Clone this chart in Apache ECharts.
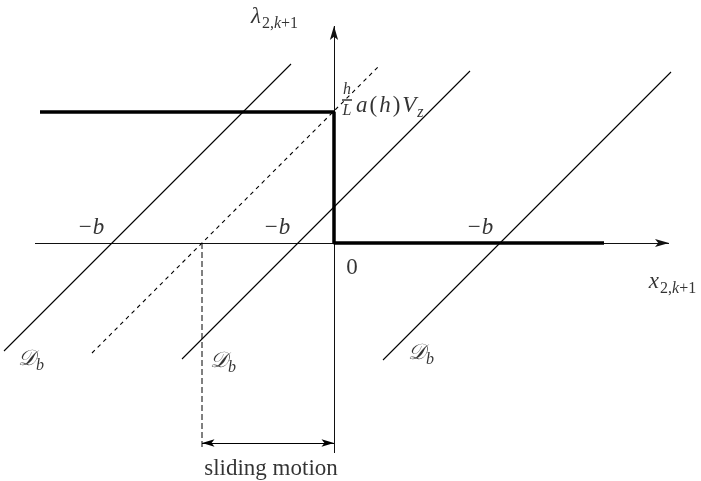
<!DOCTYPE html>
<html>
<head>
<meta charset="utf-8">
<script src="https://cdn.jsdelivr.net/npm/echarts@6/dist/echarts.min.js"></script>
<style>
  html, body { margin: 0; padding: 0; background: #fff; }
  #chart { width: 701px; height: 481px; }
</style>
</head>
<body>
<div id="chart"></div>
<script>
// Switching law (thick): upper branch at λ = (h/L)·a(h)·V_z, jump at x = 0
const stepLevel = 131;
const stepBranch = [[-294, stepLevel], [0, stepLevel], [0, 0], [270, 0]];

// D_b lines (slope 1), each one crossing the x axis at its own −b
const dbLines = [
  [[-330, -108], [-43, 179]],
  [[-152, -116], [136, 172]],
  [[49, -117], [337, 171]]
];

// Dashed D_b line passing through the corner of the switching law
const dashedLine = [[-242, -110], [45, 177]];

// Sliding-motion span: dashed drop line and the double arrow under it
const slideFoot = [[-132, 0], [-132, -207]];
const slideArrow = [[-132, -200], [0, -200]];

// Fraction bar of h/L
const fracBar = [[8, 143], [18, 143]];

// Coordinate axes (x_{2,k+1} and λ_{2,k+1}) with arrow heads
const xAxisLine = [[-299, 0], [335, 0]];
const yAxisLine = [[0, -210], [0, 217]];

// Visible window of the plane
const xRange = [-334, 367];
const yRange = [-238, 243];

// Text annotations, anchored at data coordinates
const labels = [
  { value: [-60, 226], text: '{i|λ}{sr|2,}{si|k}{sr|+1}' },
  { value: [338, -39], text: '{i|x}{sr|2,}{si|k}{sr|+1}' },
  { value: [-242, 15], text: '{r|−}{i|b}' },
  { value: [-56, 15], text: '{r|−}{i|b}' },
  { value: [147, 15], text: '{r|−}{i|b}' },
  { value: [18, -25], text: '{r|0}' },
  { value: [-303, -116], text: '{s|𝒟}{si|b}' },
  { value: [-111, -118], text: '{s|𝒟}{si|b}' },
  { value: [87, -110], text: '{s|𝒟}{si|b}' },
  { value: [13, 153], text: '{f|h}' },
  { value: [13, 132], text: '{f|L}' },
  { value: [21, 137], text: '{i|a}{p|(}{i|h}{p|)}{i|V}{si|z}', left: true },
  { value: [-63, -226], text: '{r|sliding motion}' }
];

const serif = '"Liberation Serif", "Times New Roman", serif';
const rich = {
  i: { fontFamily: serif, fontStyle: 'italic', fontSize: 23, color: '#000', padding: [0, 1, 0, 1] },
  r: { fontFamily: serif, fontSize: 23, color: '#000' },
  p: { fontFamily: serif, fontSize: 23, color: '#000', padding: [0, 1, 0, 1] },
  s: { fontFamily: '"DejaVu Serif", serif', fontStyle: 'italic', fontSize: 22, color: '#000' },
  sr: { fontFamily: serif, fontSize: 16, color: '#000', padding: [13, 0, 0, 0] },
  si: { fontFamily: serif, fontStyle: 'italic', fontSize: 16, color: '#000', padding: [13, 0, 0, 0] },
  f: { fontFamily: serif, fontStyle: 'italic', fontSize: 16, color: '#000' }
};

// Slim arrow head with a notched back. Two empty sub-paths widen the path's
// box to a square centred on the tip, so the head keeps its slim shape and
// its tip lands exactly on the line's end point.
const arrowHead = 'path://M-12,-17 L-12,-17 Z M22,17 L22,17 Z M5,0 L10,17 L5,13 L0,17 Z';

function segment(points, width, type) {
  return {
    type: 'line',
    data: points,
    showSymbol: false,
    symbol: 'none',
    clip: false,
    silent: true,
    animation: false,
    lineStyle: { color: '#000', width: width, type: type || 'solid' }
  };
}

function arrowLine(points, ends, size, color) {
  return {
    type: 'lines',
    coordinateSystem: 'cartesian2d',
    silent: true,
    animation: false,
    symbol: ends,
    symbolSize: size,
    lineStyle: { color: color, width: 1, opacity: 1 },
    itemStyle: { color: color },
    data: [{ coords: points }]
  };
}

const series = [];
series.push(arrowLine(xAxisLine, ['none', arrowHead], 28, '#111'));
series.push(arrowLine(yAxisLine, ['none', arrowHead], 28, '#111'));
dbLines.forEach(l => series.push(segment(l, 1.1)));
series.push(segment(dashedLine, 1.1, [4, 4]));
series.push(segment(slideFoot, 1, [6, 3]));
series.push(segment(fracBar, 1.2));
series.push(segment(stepBranch, 3.5));
series.push(arrowLine(slideArrow, [arrowHead, arrowHead], 25, '#000'));
series.push({
  type: 'scatter',
  symbolSize: 0,
  clip: false,
  silent: true,
  animation: false,
  data: labels.map(l => ({
    value: l.value,
    text: l.text,
    label: l.left ? { position: 'right', distance: 0 } : { position: 'inside' }
  })),
  label: {
    show: true,
    formatter: p => p.data.text,
    rich: rich
  }
});

const chart = echarts.init(document.getElementById('chart'), null, { renderer: 'canvas' });
chart.setOption({
  backgroundColor: '#fff',
  animation: false,
  grid: { left: 0, right: 0, top: 0, bottom: 0 },
  xAxis: { type: 'value', min: xRange[0], max: xRange[1], show: false },
  yAxis: { type: 'value', min: yRange[0], max: yRange[1], show: false },
  series: series
});
</script>
</body>
</html>
